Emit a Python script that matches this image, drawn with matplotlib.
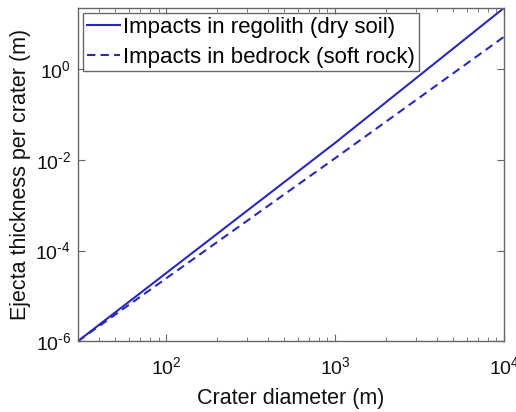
import numpy as np
import matplotlib
matplotlib.use("Agg")
import matplotlib.pyplot as plt
from matplotlib.ticker import LogLocator, FixedLocator, NullLocator

plt.rcParams["font.family"] = ["Liberation Sans", "DejaVu Sans"]
plt.rcParams["mathtext.fontset"] = "custom"
plt.rcParams["mathtext.rm"] = "Liberation Sans"
plt.rcParams["mathtext.it"] = "Liberation Sans"

# crater diameter (m) and ejecta thickness (m)
diameter = [30, 1000, 10000]
regolith = [1.0e-6, 0.024, 23.0]
bedrock = [1.0e-6, 0.011, 5.3]

labels = ["Impacts in regolith (dry soil)", "Impacts in bedrock (soft rock)"]
x_ticks = [1e2, 1e3, 1e4]
y_ticks = [1e-6, 1e-4, 1e-2, 1e0]

blue = "#2a2ab8"
axis_col = "#666666"
text_col = "#111111"


def pow_label(v):
    # MATLAB-style exponent, plain hyphen instead of a wide minus sign
    e = int(np.log10(v))
    s = str(e).replace("-", "\u2010")
    return r"$10^{%s}$" % s


fig = plt.figure(figsize=(5.16, 4.12), dpi=100)
ax = fig.add_axes([0.151, 0.172, 0.826, 0.809])

ax.loglog(diameter, regolith, "-", color=blue, lw=1.5, label=labels[0])
ax.loglog(diameter, bedrock, "--", color=blue, lw=1.5, dashes=(4, 2.5), label=labels[1])

ax.set_xlim(30, 1e4)
ax.set_ylim(1e-6, 23)

ax.xaxis.set_major_locator(FixedLocator(x_ticks))
ax.xaxis.set_minor_locator(LogLocator(base=10, subs=np.arange(2, 10)))
ax.yaxis.set_major_locator(FixedLocator(y_ticks))
ax.yaxis.set_minor_locator(NullLocator())
ax.set_xticklabels([pow_label(t) for t in x_ticks])
ax.set_yticklabels([pow_label(t) for t in y_ticks])

ax.tick_params(which="both", direction="in", top=True, right=True,
               color=axis_col, labelsize=14, labelcolor=text_col)
ax.tick_params(which="major", length=5)
ax.tick_params(axis="x", which="major", pad=11)
ax.tick_params(axis="y", which="major", pad=5)
ax.tick_params(which="minor", length=3)
for s in ax.spines.values():
    s.set_color(axis_col)
    s.set_linewidth(1.0)

ax.set_xlabel("Crater diameter (m)", fontsize=15.5, color=text_col)
ax.set_ylabel("Ejecta thickness per crater (m)", fontsize=15.5, color=text_col)
ax.xaxis.set_label_coords(0.5, -0.142)
ax.yaxis.set_label_coords(-0.11, 0.5)

leg = ax.legend(loc="upper left", fontsize=16, handlelength=1.5, handletextpad=0.15,
                borderaxespad=0.25, borderpad=0.15, labelspacing=0.4, fancybox=False)
leg.get_frame().set_edgecolor("#444444")
leg.get_frame().set_linewidth(1.0)

fig.savefig("out.png", dpi=100)
